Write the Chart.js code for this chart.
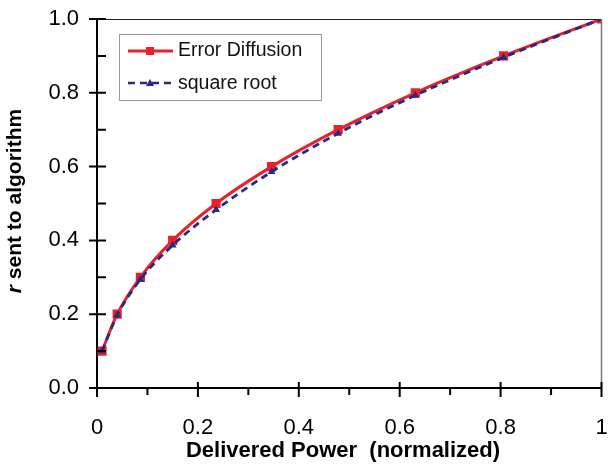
<!DOCTYPE html>
<html lang="en">
<head>
    <meta charset="UTF-8">
    <title>Error Diffusion vs square root</title>
    <script src="https://cdn.jsdelivr.net/npm/chart.js"></script>
    <style>
        html, body { margin: 0; padding: 0; background: #fff; }
        .chart-container { width: 608px; height: 468px; position: relative; }
    </style>
</head>
<body>
    <div class="chart-container">
        <canvas id="powerChart"></canvas>
    </div>
    <script>
        // values
        const deliveredPower = [0.01, 0.04, 0.086, 0.15, 0.236, 0.346, 0.478, 0.631, 0.806, 1.0];
        const errorDiffusion = [0.1, 0.2, 0.3, 0.4, 0.5, 0.6, 0.7, 0.8, 0.9, 1.0];
        const squareRoot = [0.1, 0.197, 0.294, 0.387, 0.483, 0.586, 0.69, 0.793, 0.896, 1.0];
        const xTicks = [0, 0.2, 0.4, 0.6, 0.8, 1];
        const yTicks = [0, 0.2, 0.4, 0.6, 0.8, 1.0];

        const FONT = "'Liberation Sans', Arial, sans-serif";
        const RED = '#e8212b';
        const BLUE = '#262a86';

        const toPoints = (xs, ys) => xs.map((x, i) => ({ x: x, y: ys[i] }));

        // axis ticks, frame, titles and legend box
        const decorPlugin = {
            id: 'decor',
            afterDraw(chart) {
                const ctx = chart.ctx;
                const area = chart.chartArea;
                const xs = chart.scales.x, ys = chart.scales.y;
                ctx.save();

                // top and right frame
                ctx.strokeStyle = '#222';
                ctx.lineWidth = 1;
                ctx.beginPath();
                ctx.moveTo(area.left, area.top + 0.5);
                ctx.lineTo(area.right, area.top + 0.5);
                ctx.stroke();
                ctx.strokeStyle = '#777';
                ctx.lineWidth = 1.5;
                ctx.beginPath();
                ctx.moveTo(area.right, area.top);
                ctx.lineTo(area.right, area.bottom);
                ctx.stroke();

                // tick marks
                ctx.strokeStyle = '#000';
                ctx.lineWidth = 2;
                ctx.beginPath();
                for (let i = 0; i <= 10; i++) {
                    const py = ys.getPixelForValue(i / 10);
                    if (i % 2 === 0) { ctx.moveTo(area.left - 8, py); ctx.lineTo(area.left + 9, py); }
                    else { ctx.moveTo(area.left, py); ctx.lineTo(area.left + 9, py); }
                    const px = xs.getPixelForValue(i / 10);
                    if (i % 2 === 0) { ctx.moveTo(px, area.bottom - 6); ctx.lineTo(px, area.bottom + 9); }
                    else { ctx.moveTo(px, area.bottom); ctx.lineTo(px, area.bottom + 7); }
                }
                ctx.stroke();

                // x title
                ctx.fillStyle = '#000';
                ctx.font = 'bold 22px ' + FONT;
                ctx.textAlign = 'center';
                ctx.textBaseline = 'middle';
                ctx.fillText('Delivered Power  (normalized)', 343, 451);

                // y title, italic r
                ctx.translate(15, 201);
                ctx.rotate(-Math.PI / 2);
                ctx.textAlign = 'left';
                const partA = 'r', partB = ' sent to algorithm';
                ctx.font = 'italic bold 21px ' + FONT;
                const wA = ctx.measureText(partA).width;
                ctx.font = 'bold 21px ' + FONT;
                const wB = ctx.measureText(partB).width;
                const start = -(wA + wB) / 2;
                ctx.font = 'italic bold 21px ' + FONT;
                ctx.fillText(partA, start, 0);
                ctx.font = 'bold 21px ' + FONT;
                ctx.fillText(partB, start + wA, 0);
                ctx.setTransform(1, 0, 0, 1, 0, 0);

                // legend
                ctx.fillStyle = '#fff';
                ctx.fillRect(119, 34, 202, 66);
                ctx.strokeStyle = '#999';
                ctx.lineWidth = 1;
                ctx.strokeRect(119.5, 34.5, 202, 66);

                ctx.strokeStyle = RED;
                ctx.lineWidth = 2.8;
                ctx.beginPath();
                ctx.moveTo(128, 51); ctx.lineTo(173, 51);
                ctx.stroke();
                ctx.fillStyle = RED;
                ctx.fillRect(146, 47, 8, 8);

                ctx.strokeStyle = BLUE;
                ctx.lineWidth = 2.5;
                ctx.setLineDash([7, 5]);
                ctx.beginPath();
                ctx.moveTo(128, 83); ctx.lineTo(173, 83);
                ctx.stroke();
                ctx.setLineDash([]);
                ctx.fillStyle = BLUE;
                ctx.beginPath();
                ctx.moveTo(150, 79); ctx.lineTo(154, 86); ctx.lineTo(146, 86);
                ctx.closePath();
                ctx.fill();

                ctx.fillStyle = '#111';
                ctx.font = '19.5px ' + FONT;
                ctx.textAlign = 'left';
                ctx.textBaseline = 'middle';
                ctx.fillText('Error Diffusion', 178, 51);
                ctx.fillText('square root', 178, 84);

                ctx.restore();
            }
        };

        new Chart(document.getElementById('powerChart').getContext('2d'), {
            type: 'line',
            data: {
                datasets: [
                    {
                        label: 'Error Diffusion',
                        data: toPoints(deliveredPower, errorDiffusion),
                        borderColor: RED,
                        backgroundColor: RED,
                        borderWidth: 3,
                        pointStyle: 'rect',
                        pointRadius: 6.5,
                        pointBorderWidth: 0,
                        cubicInterpolationMode: 'monotone',
                        order: 1
                    },
                    {
                        label: 'square root',
                        data: toPoints(deliveredPower, squareRoot),
                        borderColor: BLUE,
                        backgroundColor: BLUE,
                        borderWidth: 2.8,
                        borderDash: [7, 5],
                        pointStyle: 'triangle',
                        pointRadius: 4.5,
                        pointBorderWidth: 0,
                        cubicInterpolationMode: 'monotone',
                        order: 0
                    }
                ]
            },
            options: {
                responsive: true,
                maintainAspectRatio: false,
                animation: false,
                layout: { padding: { top: 19, right: 6, left: 0, bottom: 0 } },
                scales: {
                    x: {
                        type: 'linear',
                        min: 0,
                        max: 1,
                        afterBuildTicks: s => { s.ticks = xTicks.map(v => ({ value: v })); },
                        afterFit: s => { s.height = 80; },
                        grid: { display: false, drawTicks: true, tickLength: 27 },
                        border: { color: '#000', width: 2 },
                        ticks: {
                            padding: 0,
                            color: '#000',
                            font: { family: FONT, size: 22 },
                            callback: v => (v === 0 ? '0' : v === 1 ? '1' : v.toFixed(1))
                        }
                    },
                    y: {
                        min: 0,
                        max: 1,
                        afterBuildTicks: s => { s.ticks = yTicks.map(v => ({ value: v })); },
                        afterFit: s => { s.width = 97; },
                        grid: { display: false, drawTicks: true, tickLength: 18 },
                        border: { color: '#000', width: 2 },
                        ticks: {
                            padding: 0,
                            color: '#000',
                            font: { family: FONT, size: 22 },
                            callback: v => v.toFixed(1)
                        }
                    }
                },
                plugins: {
                    legend: { display: false },
                    tooltip: { enabled: false }
                }
            },
            plugins: [decorPlugin]
        });
    </script>
</body>
</html>
